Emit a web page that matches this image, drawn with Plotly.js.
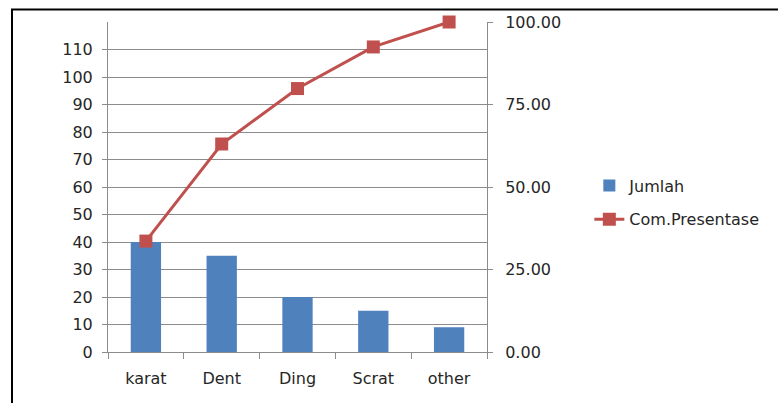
<!DOCTYPE html>
<html>
<head>
<meta charset="utf-8">
<script src="https://cdn.plot.ly/plotly-3.0.1.min.js"></script>
<style>
html,body{margin:0;padding:0;background:#fff;}
#chart{width:778px;height:403px;}
</style>
</head>
<body>
<div id="chart"></div>
<script>
var categories = ["karat", "Dent", "Ding", "Scrat", "other"];
var jumlah = [40, 35, 20, 15, 9];
var comPresentase = [33.61, 63.03, 79.83, 92.44, 100.00];
var leftTicks = [0, 10, 20, 30, 40, 50, 60, 70, 80, 90, 100, 110];
var rightTicks = [0, 25, 50, 75, 100];

var font = {family: "DejaVu Sans", size: 16, color: "#262626"};
var axisGray = "#8c8c8c";

var traces = [
  {
    type: "bar", name: "Jumlah", x: categories, y: jumlah,
    marker: {color: "#4F81BD"}, width: 0.4, legendgroup: "a",
    hoverinfo: "x+y"
  },
  {
    type: "scatter", mode: "lines+markers", name: "Com.Presentase",
    x: categories, y: comPresentase, yaxis: "y2", legendgroup: "b",
    line: {color: "#C0504D", width: 3}, cliponaxis: false,
    marker: {symbol: "square", size: 13, color: "#C0504D"}
  }
];

var layout = {
  width: 778, height: 403,
  margin: {l: 108, r: 291, t: 22, b: 51},
  paper_bgcolor: "#fff", plot_bgcolor: "#fff",
  font: font,
  showlegend: true,
  legend: {
    x: 1.27, y: 0.556, xanchor: "left", yanchor: "top",
    font: font, traceorder: "grouped", tracegroupgap: 10,
    bgcolor: "rgba(0,0,0,0)"
  },
  xaxis: {
    type: "category", showline: true, linecolor: axisGray, linewidth: 1,
    ticks: "outside", tickson: "boundaries", ticklen: 6, tickcolor: axisGray,
    showgrid: false, zeroline: false, tickfont: font, fixedrange: true,
    ticklabelstandoff: 12
  },
  yaxis: {
    range: [0, 120], tickvals: leftTicks, ticktext: leftTicks.map(String),
    showline: true, linecolor: axisGray, showgrid: true, gridcolor: axisGray,
    ticks: "outside", ticklen: 5, tickcolor: axisGray, zeroline: false,
    tickfont: font, ticklabelstandoff: 6
  },
  yaxis2: {
    overlaying: "y", side: "right", range: [0, 100], tickvals: rightTicks,
    tickformat: ".2f", showline: true, linecolor: axisGray, showgrid: false,
    ticks: "outside", ticklen: 5, tickcolor: axisGray, zeroline: false,
    tickfont: font, ticklabelstandoff: 9
  },
  shapes: [{
    type: "rect", xref: "paper", yref: "paper",
    x0: (12 - 108) / 379, x1: 1.8, y0: -0.3, y1: (352 - 9.5) / 330,
    line: {color: "#000", width: 2}, fillcolor: "rgba(0,0,0,0)", layer: "above"
  }]
};

Plotly.newPlot("chart", traces, layout, {displayModeBar: false, staticPlot: true});
</script>
</body>
</html>
